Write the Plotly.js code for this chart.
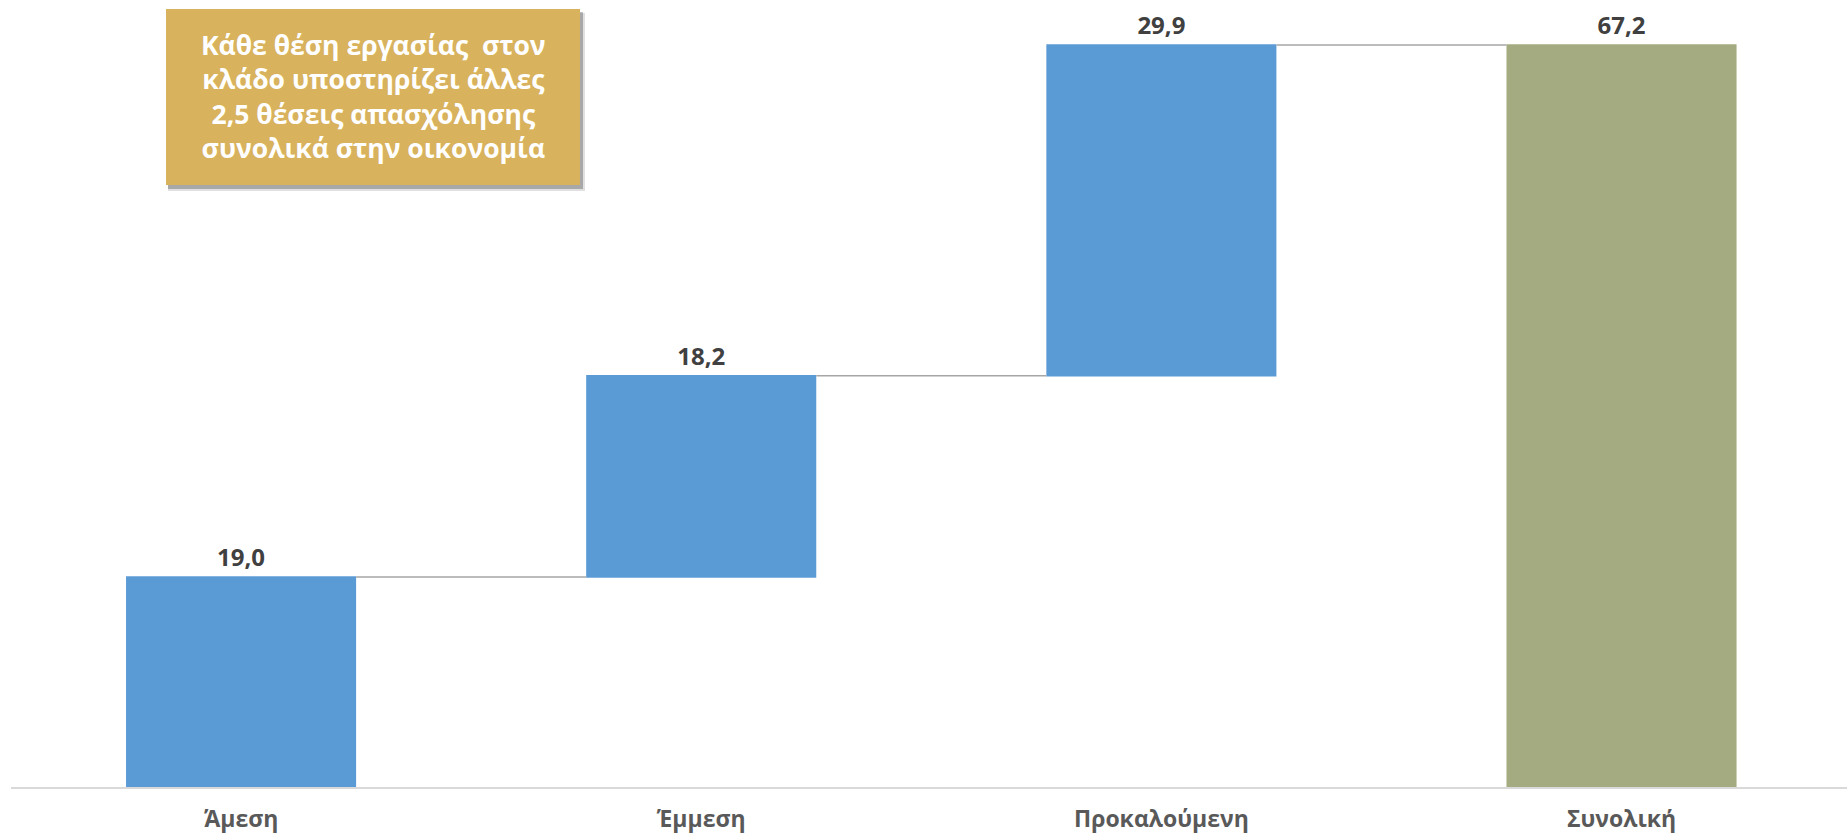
<!DOCTYPE html>
<html>
<head>
<meta charset="utf-8">
<script src="https://cdn.plot.ly/plotly-3.0.1.min.js"></script>
<style>html,body{margin:0;padding:0;background:#fff;}#chart{width:1847px;height:839px;}</style>
</head>
<body>
<div id="chart"></div>
<script>
const categories = ['Άμεση', 'Έμμεση', 'Προκαλούμενη', 'Συνολική'];
const values = [19.0, 18.2, 29.9, 67.2];
const measures = ['relative', 'relative', 'relative', 'total'];
const valueLabels = ['19,0', '18,2', '29,9', '67,2'];
const noteLines = ['Κάθε θέση εργασίας  στον', 'κλάδο υποστηρίζει άλλες', '2,5 θέσεις απασχόλησης', 'συνολικά στην οικονομία'];

const FONT = 'Open Sans, Noto Sans, DejaVu Sans, sans-serif';

const trace = {
  type: 'waterfall',
  x: categories,
  y: values,
  measure: measures,
  text: valueLabels,
  textposition: 'outside',
  textfont: {family: FONT, size: 24, color: '#404040', weight: 'bold'},
  cliponaxis: false,
  width: 0.5,
  increasing: {marker: {color: '#5B9BD5', line: {width: 0}}},
  decreasing: {marker: {color: '#5B9BD5', line: {width: 0}}},
  totals: {marker: {color: '#A4AB81', line: {width: 0}}},
  connector: {line: {color: '#A6A6A6', width: 1.5}, mode: 'between'},
  hoverinfo: 'none'
};

const W = 1836, H = 774;
const bx0 = 166, bx1 = 580, by0 = 9, by1 = 185, ml = 11, mt = 13;
function px(x){ return (x - ml) / W; }
function py(y){ return 1 - (y - mt) / H; }

const layout = {
  width: 1847, height: 839,
  margin: {l: 11, r: 0, t: 13, b: 52},
  paper_bgcolor: '#ffffff',
  plot_bgcolor: '#ffffff',
  showlegend: false,
  font: {family: FONT},
  xaxis: {
    type: 'category',
    range: [-0.5, 3.49],
    showgrid: false,
    showline: true,
    linecolor: '#D9D9D9',
    linewidth: 1.5,
    ticks: '',
    ticklabelstandoff: 11,
    tickfont: {family: FONT, size: 23, color: '#595959', weight: 'bold'},
    fixedrange: true
  },
  yaxis: {
    range: [0, 70],
    visible: false,
    showgrid: false,
    zeroline: false,
    fixedrange: true
  },
  shapes: [
    {type: 'rect', xref: 'paper', yref: 'paper',
     x0: px(bx0 + 2), x1: px(bx1 + 5), y0: py(by1 + 6), y1: py(by0 + 4),
     fillcolor: 'rgba(0,0,0,0.12)', line: {width: 0}, layer: 'above'},
    {type: 'rect', xref: 'paper', yref: 'paper',
     x0: px(bx0 + 2), x1: px(bx1 + 3), y0: py(by1 + 4), y1: py(by0 + 3),
     fillcolor: 'rgba(0,0,0,0.25)', line: {width: 0}, layer: 'above'},
    {type: 'rect', xref: 'paper', yref: 'paper',
     x0: px(bx0), x1: px(bx1), y0: py(by1), y1: py(by0),
     fillcolor: '#D8B25C', line: {width: 0}, layer: 'above'}
  ],
  annotations: [
    {xref: 'paper', yref: 'paper',
     x: px((bx0 + bx1) / 2), y: py((by0 + by1) / 2),
     xanchor: 'center', yanchor: 'middle',
     text: noteLines.join('<br>'),
     showarrow: false,
     align: 'center',
     font: {family: FONT, size: 26.5, color: '#ffffff', weight: 'bold'}
    }
  ]
};

Plotly.newPlot('chart', [trace], layout, {displayModeBar: false, staticPlot: true});
</script>
</body>
</html>
